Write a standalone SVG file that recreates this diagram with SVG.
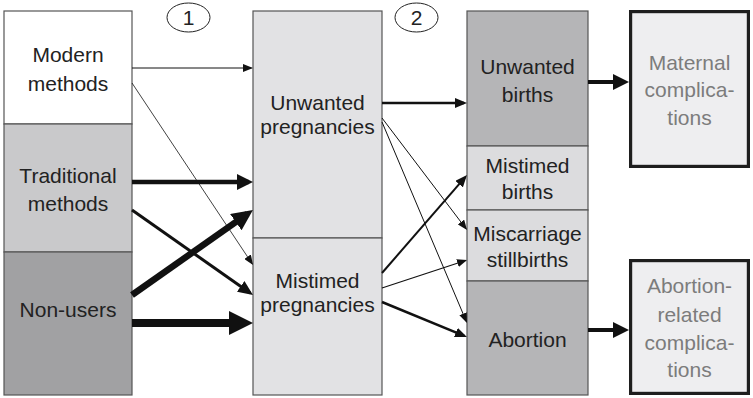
<svg xmlns="http://www.w3.org/2000/svg" width="753" height="398" viewBox="0 0 753 398">
<style>
  .box { stroke: #555; stroke-width: 1.2; }
  .out { fill: #eeeef0; stroke: #1e1e1e; stroke-width: 3.2; }
  .t { font-family: "Liberation Sans", Arial, sans-serif; font-size: 21px; fill: #222; text-anchor: middle; }
  .tg { font-family: "Liberation Sans", Arial, sans-serif; font-size: 21px; fill: #7c7c7c; text-anchor: middle; }
  .c { fill: none; stroke: #111; }
  .num { fill: #fff; stroke: #222; stroke-width: 1; }
</style>
<defs>
  <marker id="a1" markerUnits="userSpaceOnUse" markerWidth="10" markerHeight="8" refX="8.5" refY="4" orient="auto"><path d="M0,0 L10,4 L0,8 z" fill="#111"/></marker>
  <marker id="a2" markerUnits="userSpaceOnUse" markerWidth="12" markerHeight="10" refX="9" refY="5" orient="auto"><path d="M0,0 L12,5 L0,10 z" fill="#111"/></marker>
  <marker id="a3" markerUnits="userSpaceOnUse" markerWidth="15" markerHeight="13" refX="11.5" refY="6.5" orient="auto"><path d="M0,0 L15,6.5 L0,13 z" fill="#111"/></marker>
  <marker id="a4" markerUnits="userSpaceOnUse" markerWidth="16" markerHeight="16" refX="11.5" refY="8" orient="auto"><path d="M0,0 L16,8 L0,16 z" fill="#111"/></marker>
  <marker id="a5" markerUnits="userSpaceOnUse" markerWidth="21" markerHeight="20" refX="14.2" refY="10" orient="auto"><path d="M0,0 L21,10 L0,20 z" fill="#111"/></marker>
  <marker id="a6" markerUnits="userSpaceOnUse" markerWidth="24" markerHeight="24" refX="16" refY="12" orient="auto"><path d="M0,0 L24,12 L0,24 z" fill="#111"/></marker>
</defs>

<g id="step1"><ellipse class="num" cx="188.5" cy="17.5" rx="21.5" ry="14.5"/><text class="t" x="188.5" y="25">1</text></g>
<g id="step2"><ellipse class="num" cx="416.5" cy="17.5" rx="21.5" ry="14.5"/><text class="t" x="416.5" y="25">2</text></g>

<g id="modern"><rect class="box" x="4" y="11" width="128" height="113" fill="#ffffff"/><text class="t" x="68" y="62">Modern</text><text class="t" x="68" y="91">methods</text></g>
<g id="traditional"><rect class="box" x="4" y="124" width="128" height="128" fill="#c9c9cb"/><text class="t" x="68" y="183">Traditional</text><text class="t" x="68" y="211">methods</text></g>
<g id="nonusers"><rect class="box" x="4" y="252" width="128" height="143" fill="#a1a1a3"/><text class="t" x="68" y="317">Non-users</text></g>

<g id="unwanted-preg"><rect class="box" x="253" y="11" width="129" height="227" fill="#e2e2e4"/><text class="t" x="317.5" y="110">Unwanted</text><text class="t" x="317.5" y="134">pregnancies</text></g>
<g id="mistimed-preg"><rect class="box" x="253" y="238" width="129" height="157" fill="#e2e2e4"/><text class="t" x="317.5" y="288">Mistimed</text><text class="t" x="317.5" y="312">pregnancies</text></g>

<g id="unwanted-births"><rect class="box" x="467" y="11" width="121" height="135" fill="#b5b5b7"/><text class="t" x="527.5" y="74">Unwanted</text><text class="t" x="527.5" y="102">births</text></g>
<g id="mistimed-births"><rect class="box" x="467" y="146" width="121" height="64" fill="#dcdcde"/><text class="t" x="527.5" y="173">Mistimed</text><text class="t" x="527.5" y="199">births</text></g>
<g id="miscarriage"><rect class="box" x="467" y="210" width="121" height="71" fill="#dcdcde"/><text class="t" x="527.5" y="241">Miscarriage</text><text class="t" x="527.5" y="267">stillbirths</text></g>
<g id="abortion"><rect class="box" x="467" y="281" width="121" height="114" fill="#b5b5b7"/><text class="t" x="527.5" y="347">Abortion</text></g>

<g id="maternal"><rect class="out" x="630.6" y="11.6" width="117.8" height="154.8"/><text class="tg" x="689.5" y="70">Maternal</text><text class="tg" x="689.5" y="97">complica-</text><text class="tg" x="689.5" y="125">tions</text></g>
<g id="abortion-comp"><rect class="out" x="630.6" y="260.6" width="117.8" height="132.8"/><text class="tg" x="689.5" y="293">Abortion-</text><text class="tg" x="689.5" y="322">related</text><text class="tg" x="689.5" y="350">complica-</text><text class="tg" x="689.5" y="377">tions</text></g>

<g id="connectors">
  <line class="c" x1="132" y1="68" x2="251.5" y2="68" stroke-width="1" marker-end="url(#a1)"/>
  <line class="c" x1="132" y1="83" x2="252.2" y2="263.8" stroke-width="0.8" marker-end="url(#a1)"/>
  <line class="c" x1="132" y1="182" x2="248.5" y2="182" stroke-width="4.5" marker-end="url(#a4)"/>
  <line class="c" x1="132" y1="210" x2="250.1" y2="293" stroke-width="3" marker-end="url(#a3)"/>
  <line class="c" x1="132" y1="295" x2="247.4" y2="213.9" stroke-width="6.5" marker-end="url(#a5)"/>
  <line class="c" x1="132" y1="323" x2="245" y2="323" stroke-width="8" marker-end="url(#a6)"/>

  <line class="c" x1="382" y1="103" x2="464" y2="103" stroke-width="2.5" marker-end="url(#a2)"/>
  <line class="c" x1="382" y1="118" x2="466.1" y2="228.8" stroke-width="1" marker-end="url(#a1)"/>
  <line class="c" x1="382" y1="122" x2="466.4" y2="321.6" stroke-width="1" marker-end="url(#a1)"/>
  <line class="c" x1="382" y1="273" x2="465" y2="177.3" stroke-width="2" marker-end="url(#a2)"/>
  <line class="c" x1="382" y1="288" x2="465.6" y2="260.5" stroke-width="1.2" marker-end="url(#a1)"/>
  <line class="c" x1="382" y1="302" x2="464.2" y2="335.9" stroke-width="2.5" marker-end="url(#a2)"/>

  <line class="c" x1="588" y1="82" x2="624.5" y2="82" stroke-width="4" marker-end="url(#a4)"/>
  <line class="c" x1="588" y1="330" x2="624.5" y2="330" stroke-width="4" marker-end="url(#a4)"/>
</g>
</svg>
